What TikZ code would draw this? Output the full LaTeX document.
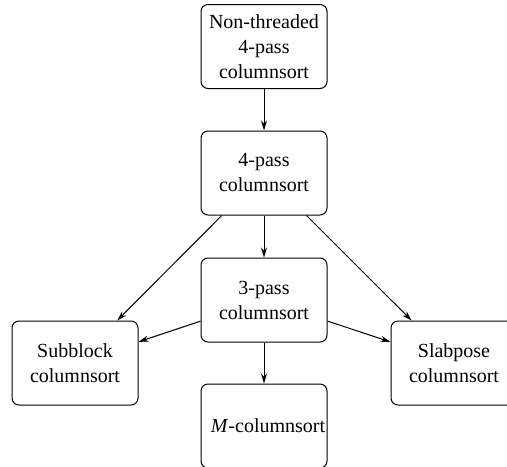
\documentclass[tikz,border=0pt]{standalone}
\usepackage{fontspec}
\setmainfont{Liberation Serif}
\usetikzlibrary{arrows.meta}
\begin{document}
\begin{tikzpicture}[x=0.5pt,y=-0.5pt,
  sortbox/.style={draw, line width=0.5pt, rounded corners=3.5pt,
    minimum width=63pt, minimum height=42pt, inner sep=0pt, align=center,
    font=\fontsize{10}{12.5}\selectfont},
  flow/.style={line width=0.5pt, -{Stealth[length=5pt,width=3pt,inset=1.6pt]}}]
  \useasboundingbox (0,0) rectangle (507,466);
  \clip (0,0) rectangle (507,466);
  % algorithm variants
  \node[sortbox] (nt)   at (264,46.5) {Non-threaded\\4-pass\\columnsort};
  \node[sortbox] (four) at (264,173)  {4-pass\\columnsort};
  \node[sortbox] (three) at (264,300) {3-pass\\columnsort};
  \node[sortbox] (sub)  at (75,363)   {Subblock\\columnsort};
  \node[sortbox] (slab) at (454,363)  {Slabpose\\columnsort};
  \node[sortbox] (mcs)  at (264,426)  {\hspace*{4pt}\textit{M}-columnsort};
  % derivations
  \draw[flow] (nt) -- (four);
  \draw[flow] (four) -- (three);
  \draw[flow] (four) -- (sub);
  \draw[flow] (four) -- (slab);
  \draw[flow] (three) -- (sub);
  \draw[flow] (three) -- (slab);
  \draw[flow] (three) -- (mcs);
\end{tikzpicture}
\end{document}
